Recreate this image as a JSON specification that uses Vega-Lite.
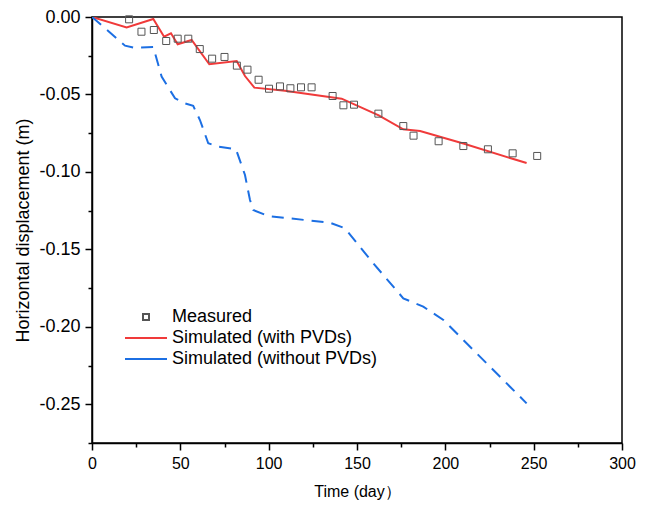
{
  "$schema": "https://vega.github.io/schema/vega-lite/v6.json",
  "width": 530,
  "height": 426,
  "autosize": {"type": "none"},
  "padding": {"left": 92, "top": 17, "right": 26, "bottom": 64},
  "config": {
    "font": "Liberation Sans",
    "view": {"stroke": "#000000", "strokeWidth": 1.5},
    "axis": {"grid": false, "domainColor": "#000000", "domainWidth": 1.5, "tickColor": "#000000", "tickWidth": 1.5, "labelColor": "#000000", "titleColor": "#000000", "titleFontWeight": "normal"}
  },
  "data": {
    "values": [
      {"series": "Measured", "t": 21, "d": -0.0015},
      {"series": "Measured", "t": 28, "d": -0.0095},
      {"series": "Measured", "t": 35, "d": -0.0084},
      {"series": "Measured", "t": 42, "d": -0.0155},
      {"series": "Measured", "t": 48.5, "d": -0.014},
      {"series": "Measured", "t": 54.5, "d": -0.014},
      {"series": "Measured", "t": 61, "d": -0.0207},
      {"series": "Measured", "t": 68, "d": -0.0269},
      {"series": "Measured", "t": 75, "d": -0.0258},
      {"series": "Measured", "t": 82, "d": -0.0314},
      {"series": "Measured", "t": 88, "d": -0.034},
      {"series": "Measured", "t": 94.3, "d": -0.0405},
      {"series": "Measured", "t": 100.2, "d": -0.0463},
      {"series": "Measured", "t": 106.4, "d": -0.0448},
      {"series": "Measured", "t": 112.3, "d": -0.046},
      {"series": "Measured", "t": 118.3, "d": -0.0454},
      {"series": "Measured", "t": 124.3, "d": -0.0454},
      {"series": "Measured", "t": 136.2, "d": -0.051},
      {"series": "Measured", "t": 142.3, "d": -0.057},
      {"series": "Measured", "t": 148.3, "d": -0.0566},
      {"series": "Measured", "t": 162.1, "d": -0.0624},
      {"series": "Measured", "t": 176.2, "d": -0.0704},
      {"series": "Measured", "t": 182, "d": -0.0766},
      {"series": "Measured", "t": 196.2, "d": -0.0802},
      {"series": "Measured", "t": 210.2, "d": -0.0833},
      {"series": "Measured", "t": 224.1, "d": -0.0854},
      {"series": "Measured", "t": 238.1, "d": -0.088},
      {"series": "Measured", "t": 252, "d": -0.0897},
      {"series": "Simulated (with PVDs)", "t": 0, "d": 0},
      {"series": "Simulated (with PVDs)", "t": 19.6, "d": -0.0067},
      {"series": "Simulated (with PVDs)", "t": 34.7, "d": -0.0013},
      {"series": "Simulated (with PVDs)", "t": 40.8, "d": -0.0127},
      {"series": "Simulated (with PVDs)", "t": 44.7, "d": -0.0105},
      {"series": "Simulated (with PVDs)", "t": 48.5, "d": -0.0176},
      {"series": "Simulated (with PVDs)", "t": 56.4, "d": -0.0148},
      {"series": "Simulated (with PVDs)", "t": 66.4, "d": -0.0305},
      {"series": "Simulated (with PVDs)", "t": 81.9, "d": -0.0284},
      {"series": "Simulated (with PVDs)", "t": 86.6, "d": -0.0381},
      {"series": "Simulated (with PVDs)", "t": 91.9, "d": -0.0456},
      {"series": "Simulated (with PVDs)", "t": 109.2, "d": -0.0476},
      {"series": "Simulated (with PVDs)", "t": 141.3, "d": -0.0527},
      {"series": "Simulated (with PVDs)", "t": 162.3, "d": -0.0635},
      {"series": "Simulated (with PVDs)", "t": 176.2, "d": -0.0725},
      {"series": "Simulated (with PVDs)", "t": 185.7, "d": -0.0736},
      {"series": "Simulated (with PVDs)", "t": 210.2, "d": -0.0817},
      {"series": "Simulated (with PVDs)", "t": 246, "d": -0.0943},
      {"series": "Simulated (without PVDs)", "t": 0, "d": 0},
      {"series": "Simulated (without PVDs)", "t": 18.7, "d": -0.0185},
      {"series": "Simulated (without PVDs)", "t": 23.9, "d": -0.0198},
      {"series": "Simulated (without PVDs)", "t": 34.7, "d": -0.0194},
      {"series": "Simulated (without PVDs)", "t": 39.4, "d": -0.0385},
      {"series": "Simulated (without PVDs)", "t": 47, "d": -0.0525},
      {"series": "Simulated (without PVDs)", "t": 52.6, "d": -0.0557},
      {"series": "Simulated (without PVDs)", "t": 57.3, "d": -0.0574},
      {"series": "Simulated (without PVDs)", "t": 61.1, "d": -0.0665},
      {"series": "Simulated (without PVDs)", "t": 65.8, "d": -0.0815},
      {"series": "Simulated (without PVDs)", "t": 71.5, "d": -0.0837},
      {"series": "Simulated (without PVDs)", "t": 81.5, "d": -0.0854},
      {"series": "Simulated (without PVDs)", "t": 86.6, "d": -0.102},
      {"series": "Simulated (without PVDs)", "t": 89.4, "d": -0.118},
      {"series": "Simulated (without PVDs)", "t": 91.3, "d": -0.1246},
      {"series": "Simulated (without PVDs)", "t": 99.8, "d": -0.1285},
      {"series": "Simulated (without PVDs)", "t": 134.7, "d": -0.1328},
      {"series": "Simulated (without PVDs)", "t": 143.2, "d": -0.1364},
      {"series": "Simulated (without PVDs)", "t": 159.2, "d": -0.159},
      {"series": "Simulated (without PVDs)", "t": 176.2, "d": -0.1816},
      {"series": "Simulated (without PVDs)", "t": 187.5, "d": -0.187},
      {"series": "Simulated (without PVDs)", "t": 198.9, "d": -0.1956},
      {"series": "Simulated (without PVDs)", "t": 210.2, "d": -0.2085},
      {"series": "Simulated (without PVDs)", "t": 246, "d": -0.2494}
    ]
  },
  "resolve": {"axis": {"x": "independent", "y": "independent"}},
  "layer": [
    {
      "transform": [{"filter": "datum.series === 'Simulated (with PVDs)'"}],
      "mark": {"type": "line", "strokeWidth": 2, "clip": true},
      "encoding": {
        "x": {"field": "t", "type": "quantitative", "scale": {"domain": [0, 300], "nice": false, "zero": false},
          "axis": {"orient": "bottom", "values": [25, 75, 125, 175, 225, 275], "labels": false, "domain": false, "tickSize": 4, "title": null}},
        "y": {"field": "d", "type": "quantitative", "scale": {"domain": [-0.275, 0], "nice": false, "zero": false},
          "axis": {"orient": "left", "values": [-0.025, -0.075, -0.125, -0.175, -0.225, -0.275], "labels": false, "domain": false, "tickSize": 4, "title": null}},
        "color": {"field": "series", "type": "nominal"},
        "order": {"field": "t", "type": "quantitative"}
      }
    },
    {
      "transform": [{"filter": "datum.series === 'Simulated (without PVDs)'"}],
      "mark": {"type": "line", "strokeWidth": 2, "strokeDash": [12, 8], "clip": true},
      "encoding": {
        "x": {"field": "t", "type": "quantitative", "axis": null},
        "y": {"field": "d", "type": "quantitative", "axis": null},
        "color": {"field": "series", "type": "nominal"},
        "order": {"field": "t", "type": "quantitative"}
      }
    },
    {
      "transform": [{"filter": "datum.series === 'Measured'"}],
      "mark": {"type": "point", "filled": false, "size": 544, "strokeWidth": 1, "opacity": 1},
      "encoding": {
        "x": {"field": "t", "type": "quantitative", "title": "Time (day）",
          "axis": {"orient": "bottom", "values": [0, 50, 100, 150, 200, 250, 300], "tickSize": 7, "labelFontSize": 16, "labelPadding": 5, "titleFontSize": 16, "titlePadding": 12, "labelFlush": false}},
        "y": {"field": "d", "type": "quantitative", "title": "Horizontal displacement (m)",
          "axis": {"orient": "left", "values": [0, -0.05, -0.1, -0.15, -0.2, -0.25], "tickSize": 7, "labelFontSize": 18, "labelPadding": 5, "titleFontSize": 18, "titlePadding": 6, "labelFlush": false,
            "labelExpr": "datum.value < 0 ? '-' + format(-datum.value, '.2f') : format(datum.value, '.2f')"}},
        "shape": {"field": "series", "type": "nominal",
          "scale": {"domain": ["Measured", "Simulated (with PVDs)", "Simulated (without PVDs)"], "range": ["M-0.3,-0.3H0.3V0.3H-0.3Z", "M-2.1,0H2.1", "M-2.1,0H2.1"]}},
        "color": {"field": "series", "type": "nominal",
          "scale": {"domain": ["Measured", "Simulated (with PVDs)", "Simulated (without PVDs)"], "range": ["#555555", "#F03A3A", "#1C6FE3"]},
          "legend": {
            "title": null, "orient": "none", "legendX": 43, "legendY": 289, "padding": 0,
            "labelFontSize": 18, "labelColor": "#000000", "labelOffset": 15, "labelLimit": 0, "rowPadding": 1,
            "symbolSize": 400, "symbolStrokeWidth": 2,
            "encode": {
              "symbols": {
                "update": {
                  "fill": {"value": "transparent"},
                  "opacity": {"value": 1},
                  "stroke": {"signal": "datum.value === 'Measured' ? '#555555' : (datum.value === 'Simulated (with PVDs)' ? '#F03A3A' : '#1C6FE3')"},
                  "strokeWidth": {"signal": "datum.value === 'Measured' ? 1 : 2"},
                  "strokeDash": {"signal": "datum.value === 'Simulated (without PVDs)' ? [12, 8] : [1, 0]"}
                }
              }
            }
          }
        }
      }
    }
  ]
}
